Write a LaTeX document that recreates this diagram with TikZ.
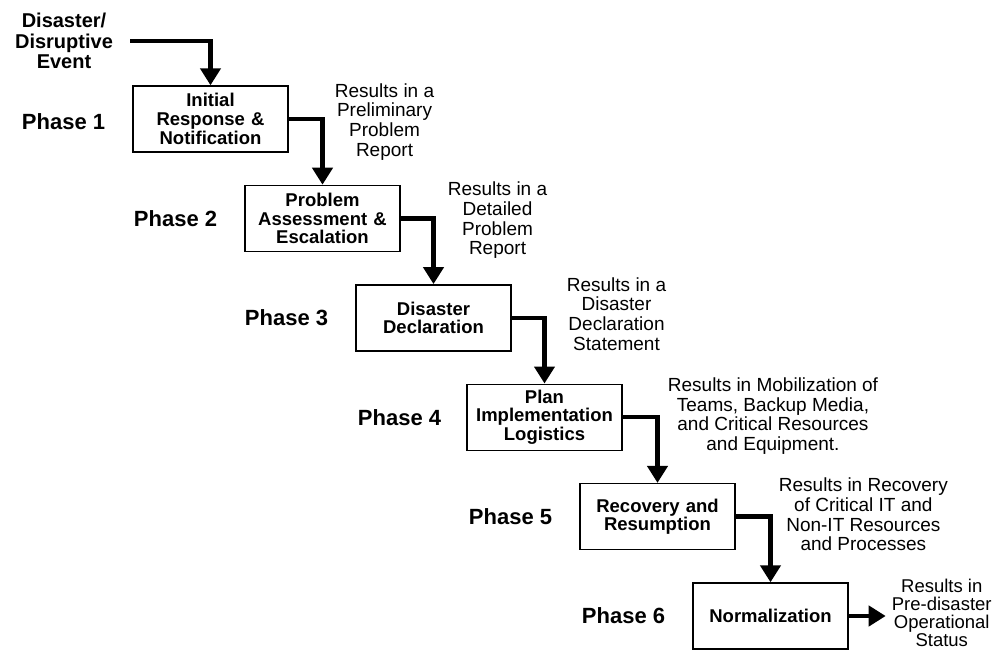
\documentclass[tikz,border=0pt]{standalone}
\usepackage{fontspec}
\setmainfont{Liberation Sans}
\usetikzlibrary{positioning,arrows.meta}
\tikzstyle{stepbox}=[rectangle, draw=black, line width=1.4pt, minimum width=155pt,
                    minimum height=66pt, inner sep=2pt, text centered, text width=150pt,
                    font=\fontsize{18.5}{18.7}\selectfont\bfseries]
\tikzstyle{rtext}=[rectangle, inner sep=0pt, align=center,
                    font=\fontsize{19}{19.7}\selectfont]
\tikzstyle{phtext}=[rectangle, inner sep=0pt, font=\fontsize{22}{24}\selectfont\bfseries]
\tikzstyle{fline}=[-{Triangle[width=20pt,length=17pt]}, line width=4.5pt]
\begin{document}
\begin{tikzpicture}
\useasboundingbox (0,0) rectangle (997pt,-651pt);

\node (EVENT) [rtext, font=\fontsize{20}{20.5}\selectfont\bfseries] at (64pt,-41pt) {Disaster/\\Disruptive\\Event};

\node (INIT) [stepbox] at (210.5pt,-119pt) {Initial\\Response \&\\Notification};
\node (PH1) [phtext, left=27pt of INIT, yshift=-3pt] {Phase 1};
\node (INITres) [rtext, right=46pt of INIT.north east, anchor=north west, yshift=2pt] {Results in a\\Preliminary\\Problem\\Report};
 \draw[fline] ([xshift=17pt]EVENT.east) -| (INIT.north);

\node (ASSESS) [stepbox, below=32pt of INIT, xshift=112pt] {Problem\\Assessment \&\\Escalation};
\node (PH2) [phtext, left=27pt of ASSESS] {Phase 2};
\node (ASSESSres) [rtext, right=47pt of ASSESS.north east, anchor=north west, yshift=3pt] {Results in a\\Detailed\\Problem\\Report};
 \draw[fline] (INIT.east) -| (ASSESS.north);

\node (DECL) [stepbox, below=32pt of ASSESS, xshift=111pt] {Disaster\\Declaration};
\node (PH3) [phtext, left=27pt of DECL] {Phase 3};
\node (DECLres) [rtext, right=55pt of DECL.north east, anchor=north west, yshift=7pt] {Results in a\\Disaster\\Declaration\\Statement};
 \draw[fline] (ASSESS.east) -| (DECL.north);

\node (IMPL) [stepbox, below=32pt of DECL, xshift=111pt] {Plan\\Implementation\\Logistics};
\node (PH4) [phtext, left=25pt of IMPL] {Phase 4};
\node (IMPLres) [rtext, right=45pt of IMPL.north east, anchor=north west, yshift=6pt] {Results in Mobilization of\\Teams, Backup Media,\\and Critical Resources\\and Equipment.};
 \draw[fline] (DECL.east) -| (IMPL.north);

\node (RECOV) [stepbox, below=32pt of IMPL, xshift=113pt] {Recovery and\\Resumption};
\node (PH5) [phtext, left=27pt of RECOV] {Phase 5};
\node (RECOVres) [rtext, right=43pt of RECOV.north east, anchor=north west, yshift=5pt] {Results in Recovery\\of Critical IT and\\Non-IT Resources\\and Processes};
 \draw[fline] (IMPL.east) -| (RECOV.north);

\node (NORM) [stepbox, below=32pt of RECOV, xshift=113pt] {Normalization};
\node (PH6) [phtext, left=27pt of NORM] {Phase 6};
\node (NORMres) [rtext, inner xsep=6pt, inner ysep=0pt, font=\fontsize{18.5}{18.2}\selectfont, right=37pt of NORM, yshift=3pt] {Results in\\Pre-disaster\\Operational\\Status};
 \draw[fline] (RECOV.east) -| (NORM.north);
 \draw[fline] (NORM.east) -- (NORM.east -| NORMres.west);

\end{tikzpicture}
\end{document}
